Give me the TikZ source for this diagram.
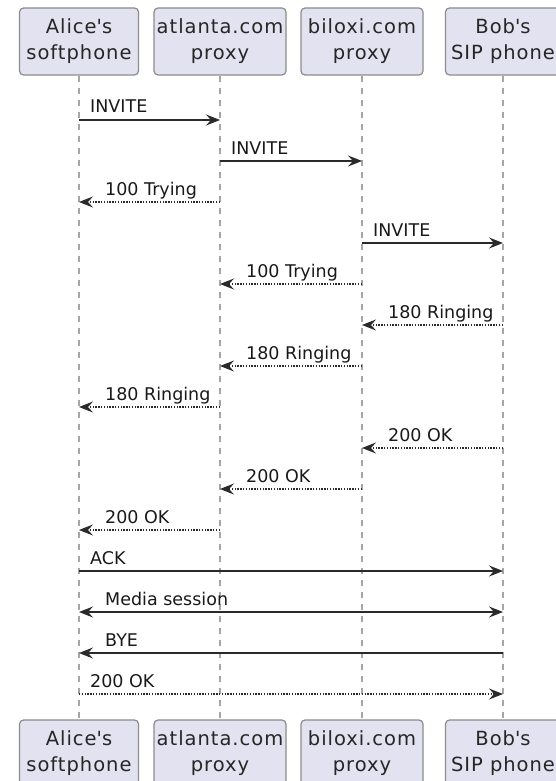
\documentclass[tikz,border=0pt]{standalone}
\usepackage{fontspec}
\setmainfont{DejaVu Sans}
\newfontfamily\partfont{DejaVu Sans}[LetterSpace=5]
\usetikzlibrary{arrows.meta}
\definecolor{boxfill}{HTML}{E2E2F0}
\definecolor{boxborder}{HTML}{8C8C8C}
\definecolor{lifecol}{HTML}{A6A6A6}
\definecolor{arrcol}{HTML}{2A2A2A}
\begin{document}
\begin{tikzpicture}[x=1pt,y=-1pt,
  participant/.style={draw=boxborder, fill=boxfill, line width=1.2pt, rounded corners=4pt,
    minimum height=67pt, inner sep=0pt, align=center,
    font=\partfont\fontsize{19.5}{26}\selectfont, text=black!85},
  lifeline/.style={draw=lifecol, line width=1.3pt, dash pattern=on 6pt off 6pt},
  msg/.style={draw=arrcol, line width=1.3pt, -{Stealth[length=14pt,width=11pt,inset=5pt]}},
  reply/.style={msg, dash pattern=on 1.4pt off 1.4pt},
  both/.style={draw=arrcol, line width=1.3pt, {Stealth[length=14pt,width=11pt,inset=5pt]}-{Stealth[length=14pt,width=11pt,inset=5pt]}},
  lbl/.style={anchor=base west, inner sep=0pt, font=\fontsize{17.5}{20}\selectfont, text=black!90}]
\useasboundingbox (0,0) rectangle (556,781);
\fill[white] (0,0) rectangle (556,781);
% participants
\node[participant, minimum width=119pt] (aliceT) at (79,41.5) {Alice\textquotesingle s\\softphone};
\node[participant, minimum width=132pt] (atlT) at (220,41.5) {atlanta.com\\proxy};
\node[participant, minimum width=122pt] (bilT) at (362,41.5) {biloxi.com\\proxy};
\node[participant, minimum width=115pt] (bobT) at (503,41.5) {Bob\textquotesingle s\\SIP phone};
\node[participant, minimum width=119pt] (aliceB) at (79,753.5) {Alice\textquotesingle s\\softphone};
\node[participant, minimum width=132pt] (atlB) at (220,753.5) {atlanta.com\\proxy};
\node[participant, minimum width=122pt] (bilB) at (362,753.5) {biloxi.com\\proxy};
\node[participant, minimum width=115pt] (bobB) at (503,753.5) {Bob\textquotesingle s\\SIP phone};
% lifelines
\draw[lifeline] (aliceT) -- (aliceB);
\draw[lifeline] (atlT) -- (atlB);
\draw[lifeline] (bilT) -- (bilB);
\draw[lifeline] (bobT) -- (bobB);
% message anchor coordinates
\foreach \k in {1,...,15}{
  \pgfmathsetmacro\yy{120+41*(\k-1)}
  \coordinate (A\k) at (79,\yy);
  \coordinate (T\k) at (220,\yy);
  \coordinate (B\k) at (362,\yy);
  \coordinate (O\k) at (503,\yy);
}
% messages
\draw[msg] (A1) -- (T1);
\node[lbl] (l1) at ([xshift=11pt,yshift=7pt]A1) {INVITE};
\draw[msg] (T2) -- (B2);
\node[lbl] (l2) at ([xshift=11pt,yshift=7pt]T2) {INVITE};
\draw[reply] (T3) -- (A3);
\node[lbl] (l3) at ([xshift=26pt,yshift=7pt]A3) {100 Trying};
\draw[msg] (B4) -- (O4);
\node[lbl] (l4) at ([xshift=11pt,yshift=7pt]B4) {INVITE};
\draw[reply] (B5) -- (T5);
\node[lbl] (l5) at ([xshift=26pt,yshift=7pt]T5) {100 Trying};
\draw[reply] (O6) -- (B6);
\node[lbl] (l6) at ([xshift=26pt,yshift=7pt]B6) {180 Ringing};
\draw[reply] (B7) -- (T7);
\node[lbl] (l7) at ([xshift=26pt,yshift=7pt]T7) {180 Ringing};
\draw[reply] (T8) -- (A8);
\node[lbl] (l8) at ([xshift=26pt,yshift=7pt]A8) {180 Ringing};
\draw[reply] (O9) -- (B9);
\node[lbl] (l9) at ([xshift=26pt,yshift=7pt]B9) {200 OK};
\draw[reply] (B10) -- (T10);
\node[lbl] (l10) at ([xshift=26pt,yshift=7pt]T10) {200 OK};
\draw[reply] (T11) -- (A11);
\node[lbl] (l11) at ([xshift=26pt,yshift=7pt]A11) {200 OK};
\draw[msg] (A12) -- (O12);
\node[lbl] (l12) at ([xshift=11pt,yshift=7pt]A12) {ACK};
\draw[both] (A13) -- (O13);
\node[lbl] (l13) at ([xshift=26pt,yshift=7pt]A13) {Media session};
\draw[msg] (O14) -- (A14);
\node[lbl] (l14) at ([xshift=26pt,yshift=7pt]A14) {BYE};
\draw[reply] (A15) -- (O15);
\node[lbl] (l15) at ([xshift=11pt,yshift=7pt]A15) {200 OK};
\end{tikzpicture}
\end{document}
